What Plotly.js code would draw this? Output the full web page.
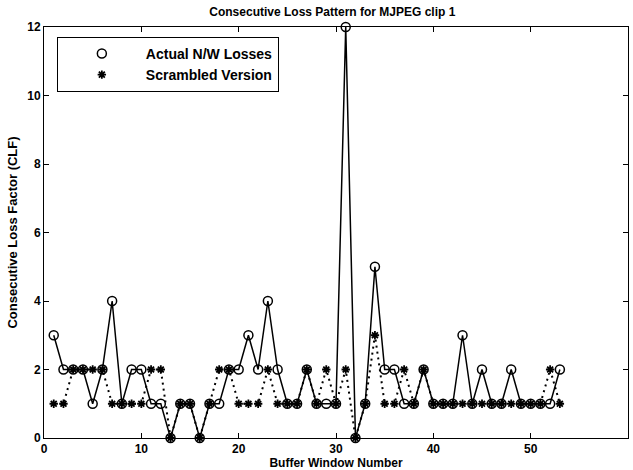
<!DOCTYPE html>
<html>
<head>
<meta charset="utf-8">
<script src="https://cdn.plot.ly/plotly-3.0.1.min.js"></script>
<style>html,body{margin:0;padding:0;background:#fff;}#chart{width:633px;height:470px;}</style>
</head>
<body>
<div id="chart"></div>
<script>
// Buffer window numbers
var bufferWindow = [1,2,3,4,5,6,7,8,9,10,11,12,13,14,15,16,17,18,19,20,21,22,23,24,25,26,27,28,29,30,31,32,33,34,35,36,37,38,39,40,41,42,43,44,45,46,47,48,49,50,51,52,53];
// Actual N/W Losses (CLF)
var actualLosses = [3,2,2,2,1,2,4,1,2,2,1,1,0,1,1,0,1,1,2,2,3,2,4,2,1,1,2,1,1,1,12,0,1,5,2,2,1,1,2,1,1,1,3,1,2,1,1,2,1,1,1,1,2];
// Scrambled Version (CLF)
var scrambledLosses = [1,1,2,2,2,2,1,1,1,1,2,2,0,1,1,0,1,2,2,1,1,1,2,1,1,1,2,1,2,1,2,0,1,3,1,1,2,1,2,1,1,1,1,1,1,1,1,1,1,1,1,2,1];
var xTicks = [0,10,20,30,40,50,60];
var yTicks = [0,2,4,6,8,10,12];

var FONT = 'Liberation Sans, Arial, Helvetica, sans-serif';

var traces = [
  {x: bufferWindow, y: actualLosses, mode: 'lines', showlegend: false, cliponaxis: false,
   line: {color: '#000', width: 1.5}, hoverinfo: 'skip'},
  {x: bufferWindow, y: scrambledLosses, mode: 'lines', showlegend: false, cliponaxis: false,
   line: {color: '#000', width: 2, dash: '2px,4px'}, hoverinfo: 'skip'},
  {x: bufferWindow, y: actualLosses, mode: 'markers', name: 'Actual N/W Losses', cliponaxis: false,
   marker: {symbol: 'circle-open', size: 9, color: '#000', line: {width: 1.5, color: '#000'}}},
  {x: bufferWindow, y: scrambledLosses, mode: 'markers', name: 'Scrambled Version', cliponaxis: false,
   marker: {symbol: 'asterisk-open', size: 7, color: '#000', line: {width: 1.8, color: '#000'}}}
];

var axisCommon = {
  showgrid: false, zeroline: false, showline: true, linecolor: '#000', linewidth: 1,
  mirror: 'ticks', ticks: 'inside', ticklen: 5, tickwidth: 1, tickcolor: '#000',
  tickfont: {family: FONT, size: 12, color: '#000', weight: 'bold'}
};

var layout = {
  width: 633, height: 470,
  margin: {l: 44, r: 5, t: 27, b: 32},
  paper_bgcolor: '#fff', plot_bgcolor: '#fff',
  font: {family: FONT, color: '#000'},
  title: {text: 'Consecutive Loss Pattern for MJPEG clip 1', x: 0.525, xanchor: 'center', y: 0.975, yanchor: 'middle',
          font: {family: FONT, size: 12, color: '#000', weight: 'bold'}},
  xaxis: Object.assign({}, axisCommon, {
    range: [0, 60], tickmode: 'array', tickvals: xTicks, ticktext: xTicks.map(String),
    title: {text: 'Buffer Window Number', standoff: 4, font: {family: FONT, size: 12, color: '#000', weight: 'bold'}}
  }),
  yaxis: Object.assign({}, axisCommon, {
    range: [0, 12], tickmode: 'array', tickvals: yTicks, ticktext: yTicks.map(String),
    title: {text: 'Consecutive Loss Factor (CLF)', standoff: 6, font: {family: FONT, size: 13, color: '#000', weight: 'bold'}}
  }),
  legend: {x: 0.022, y: 0.976, xanchor: 'left', yanchor: 'top', bgcolor: '#fff',
           bordercolor: '#000', borderwidth: 1, itemwidth: 78, tracegroupgap: 0,
           font: {family: FONT, size: 14, color: '#000', weight: 'bold'}},
  showlegend: true
};

Plotly.newPlot('chart', traces, layout, {displayModeBar: false, staticPlot: true});
</script>
</body>
</html>
